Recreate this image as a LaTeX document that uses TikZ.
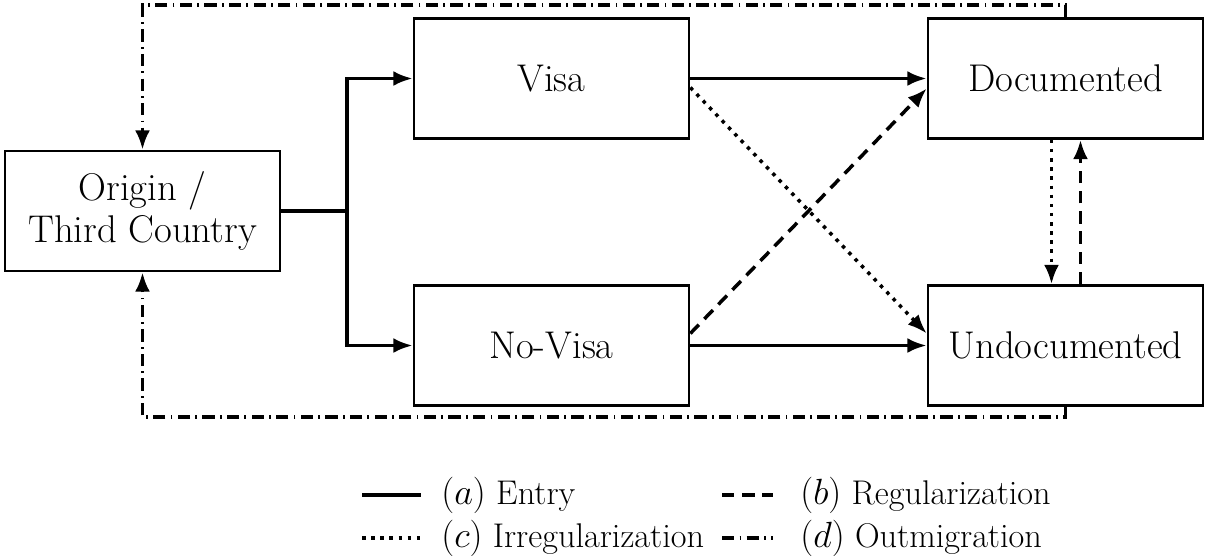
\documentclass[tikz,border=0pt]{standalone}
\usetikzlibrary{arrows.meta,calc}

\tikzset{
  stagebox/.style={draw, line width=1.5pt, minimum width=5.5cm, minimum height=2.4cm, font=\fontsize{22}{24}\selectfont, align=center},
  flow/.style={line width=2pt, -{Latex[length=11pt,width=8.5pt]}},
  entry/.style={flow},
  regular/.style={flow, dash pattern=on 7pt off 4.5pt},
  irregular/.style={flow, dash pattern=on 2pt off 3.2pt},
  outmig/.style={flow, dash pattern=on 7pt off 3pt on 1pt off 3pt},
  legtext/.style={anchor=west, inner sep=0, font=\fontsize{19.5}{22}\selectfont},
}

\begin{document}
\begin{tikzpicture}
  \useasboundingbox (0,0) rectangle (24.12,-11.1);
  % stages
  \node[stagebox] (origin) at (2.85,-4.22) {Origin /\\ Third Country};
  \node[stagebox] (visa)   at (11.03,-1.57) {Visa};
  \node[stagebox] (novisa) at (11.03,-6.91) {No-Visa};
  \node[stagebox] (doc)    at (21.31,-1.57) {Documented};
  \node[stagebox] (undoc)  at (21.31,-6.91) {Undocumented};

  \coordinate (fork) at (6.94,0);
  \coordinate (ttop) at (0,-0.1);
  \coordinate (tbot) at (0,-8.34);

  % entry
  \draw[entry] (origin.east) -- (fork |- origin.east) |- (visa.west);
  \draw[entry] (origin.east) -- (fork |- origin.east) |- (novisa.west);
  \draw[entry] (visa.east) -- (doc.west);
  \draw[entry] (novisa.east) -- (undoc.west);
  % status changes
  \draw[irregular] ($(visa.east)+(0,-0.18)$) -- ($(undoc.west)+(0,0.24)$);
  \draw[regular] ($(novisa.east)+(0,0.24)$) -- ($(doc.west)+(0,-0.2)$);
  \draw[irregular] ($(doc.south)+(-0.28,0)$) -- ($(undoc.north)+(-0.28,0)$);
  \draw[regular] ($(undoc.north)+(0.3,0)$) -- ($(doc.south)+(0.3,0)$);
  % outmigration
  \draw[outmig] (doc.north) |- (origin.north |- ttop) -- (origin.north);
  \draw[outmig] (undoc.south) |- (origin.south |- tbot) -- (origin.south);

  % legend
  \coordinate (la1) at (7.24,-9.9);   \coordinate (la2) at (8.42,-9.9);
  \coordinate (lc1) at (7.24,-10.76); \coordinate (lc2) at (8.42,-10.76);
  \coordinate (lb1) at (14.44,-9.9);   \coordinate (lb2) at (15.46,-9.9);
  \coordinate (ld1) at (14.44,-10.76); \coordinate (ld2) at (15.46,-10.76);
  \draw[entry,-] (la1) -- (la2);
  \draw[irregular,-] (lc1) -- (lc2);
  \draw[regular,-] (lb1) -- (lb2);
  \draw[outmig,-] (ld1) -- (ld2);
  \node[legtext] (ta) at (8.82,-9.9) {$(a)$ Entry};
  \node[legtext] (tc) at (8.82,-10.76) {$(c)$ Irregularization};
  \node[legtext] (tb) at (16.0,-9.9) {$(b)$ Regularization};
  \node[legtext] (td) at (16.0,-10.76) {$(d)$ Outmigration};
\end{tikzpicture}
\end{document}
